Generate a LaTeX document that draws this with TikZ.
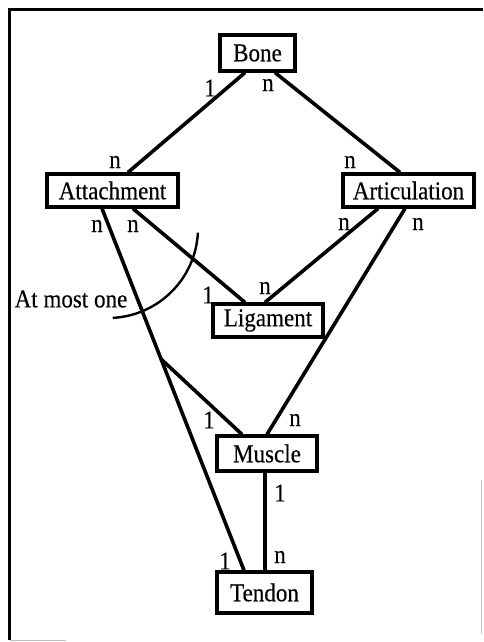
\documentclass[tikz,border=0pt]{standalone}
\usepackage{fontspec}
\setmainfont{Liberation Serif}[FakeStretch=0.9, FakeBold=0.3]
\usetikzlibrary{calc}
\begin{document}
\begin{tikzpicture}[x=0.5pt,y=-0.5pt,
  font=\fontsize{12.8}{15}\selectfont,
  ent/.style={draw, line width=1.6pt, inner sep=0pt, fill=white},
  rel/.style={line width=1.8pt},
  card/.style={inner sep=0pt},
  framestyle/.style={line width=1.6pt}]
\useasboundingbox (0,0) rectangle (483,642);
% frame
\draw[framestyle] (9.5,640) -- (9.5,9.5) -- (483,9.5);
\draw[gray!50, line width=0.8pt] (9.5,640.5) -- (66,640.5);
\draw[gray!45, line width=0.8pt] (481.5,480) -- (481.5,634);
% entities
\node[ent, minimum width=37.5pt, minimum height=18pt] (bone) at (257.5,53) {Bone};
\node[ent, minimum width=65.5pt, minimum height=16.5pt] (attach) at (112.5,190.5) {Attachment};
\node[ent, minimum width=65.5pt, minimum height=16.5pt] (artic) at (408.5,190.5) {Articulation};
\node[ent, minimum width=55pt, minimum height=16.5pt] (lig) at (268,320.5) {Ligament};
\node[ent, minimum width=50pt, minimum height=17.5pt] (muscle) at (267,453.5) {Muscle};
\node[ent, minimum width=47.5pt, minimum height=20.5pt] (tendon) at (264.5,592.5) {Tendon};
% connectors
\draw[rel] ([xshift=-6.25pt]bone.south) -- ([xshift=7.75pt]attach.north);
\draw[rel] ([xshift=8.75pt]bone.south) -- ([xshift=-4.25pt]artic.north);
\coordinate (atA) at ([xshift=-5.25pt]attach.south);
\coordinate (teA) at ([xshift=-10.25pt]tendon.north);
\draw[rel] (atA) -- (teA);
\draw[rel] ([xshift=10.25pt]attach.south) -- ([xshift=-11.5pt]lig.north);
\draw[rel] ([xshift=-15.25pt]artic.south) -- ([xshift=-1.5pt]lig.north);
\draw[rel] ([xshift=-1.75pt]artic.south) -- (muscle.north);
\draw[rel] ($(atA)!0.416!(teA)$) -- ([xshift=-12.5pt]muscle.north);
\coordinate (msB) at ([xshift=-1pt]muscle.south);
\draw[rel] (msB) -- (msB |- tendon.north);
% constraint arc
\draw[line width=1.2pt] (197.9,232.7) arc[start angle=-3, end angle=-87, radius=45pt];
\node[card] (amo) at (71,299) {At most one};
% cardinalities
\node[card] (c1) at (210,88) {1};
\node[card] (c2) at (268,85) {n};
\node[card] (c3) at (115,162) {n};
\node[card] (c4) at (350,162) {n};
\node[card] (c5) at (97,226) {n};
\node[card] (c6) at (133,226) {n};
\node[card] (c7) at (344,224) {n};
\node[card] (c8) at (418,224) {n};
\node[card] (c9) at (208,295) {1};
\node[card] (c10) at (265,288) {n};
\node[card] (c11) at (209,420) {1};
\node[card] (c12) at (295,420) {n};
\node[card] (c13) at (280,493) {1};
\node[card] (c14) at (280,557) {n};
\node[card] (c15) at (225,561) {1};
\end{tikzpicture}
\end{document}
